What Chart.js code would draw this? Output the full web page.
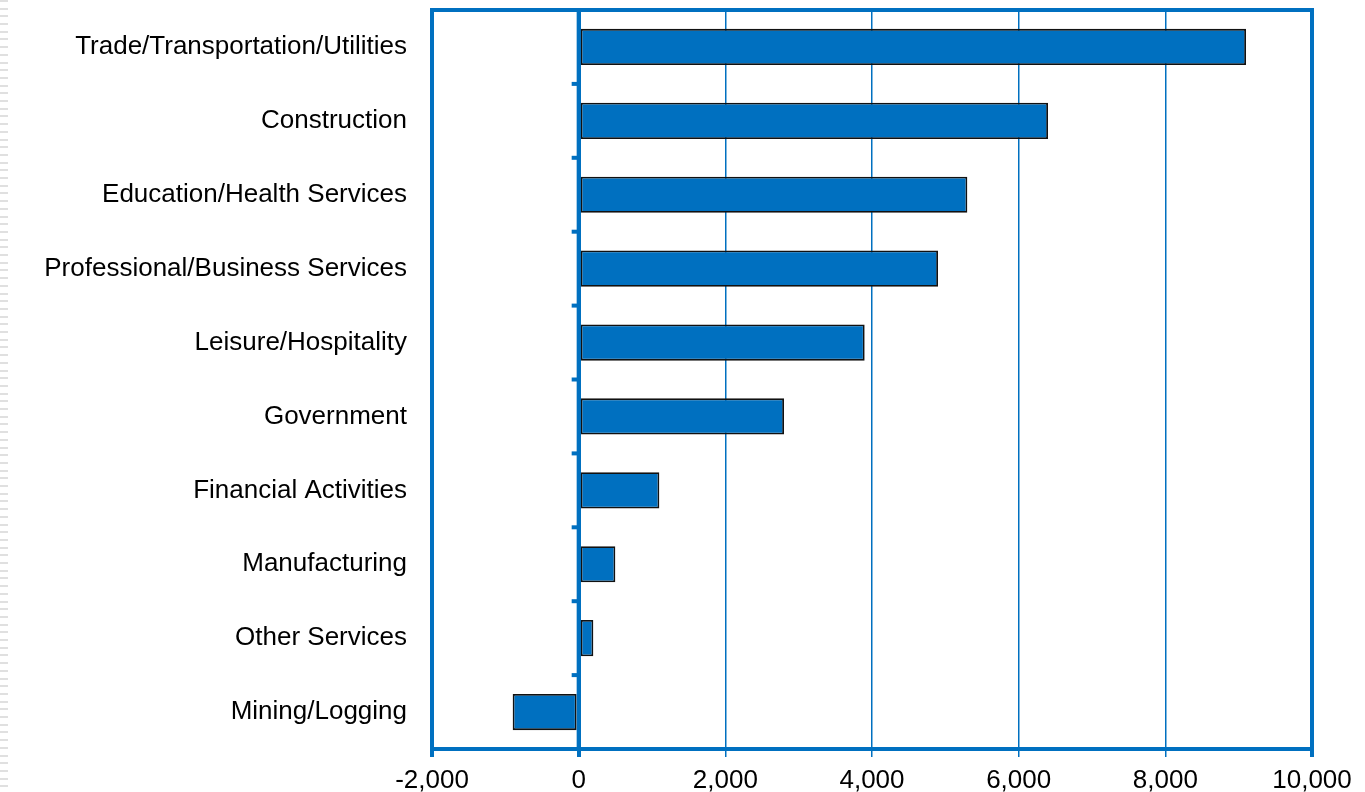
<!DOCTYPE html>
<html>
<head>
<meta charset="utf-8">
<script src="https://cdn.jsdelivr.net/npm/chart.js@4.4.0/dist/chart.umd.min.js"></script>
<style>
  html, body { margin: 0; padding: 0; background: #fff; }
  #wrap { position: relative; width: 1365px; height: 792px; }
  #stripe {
    position: absolute; left: 0; top: 0; width: 8px; height: 792px;
    background: repeating-linear-gradient(to bottom, #e0e0e0 0px, #e0e0e0 2px, #fff 2px, #fff 7.7px);
  }
</style>
</head>
<body>
<div id="wrap">
  <div id="stripe"></div>
  <canvas id="chart" width="1365" height="792"></canvas>
</div>
<script>
const categories = [
  'Trade/Transportation/Utilities',
  'Construction',
  'Education/Health Services',
  'Professional/Business Services',
  'Leisure/Hospitality',
  'Government',
  'Financial Activities',
  'Manufacturing',
  'Other Services',
  'Mining/Logging'
];
const jobChange = [9100, 6400, 5300, 4900, 3900, 2800, 1100, 500, 200, -900];
const xMin = -2000;
const xMax = 10000;
const xStep = 2000;

const blue = '#0070C0';
const fontFamily = 'Liberation Sans, Arial, sans-serif';

// frame, zero line and the little ticks on it
const framePlugin = {
  id: 'frame',
  afterDatasetsDraw(chart) {
    const { ctx, chartArea: a, scales } = chart;
    const x0 = scales.x.getPixelForValue(0);
    ctx.save();
    ctx.strokeStyle = blue;
    ctx.lineWidth = 4;
    ctx.beginPath();
    ctx.moveTo(x0, a.top);
    ctx.lineTo(x0, a.bottom);
    ctx.stroke();
    ctx.strokeRect(a.left, a.top, a.right - a.left, a.bottom - a.top);
    const n = categories.length;
    const h = (a.bottom - a.top) / n;
    for (let i = 1; i < n; i++) {
      const y = a.top + h * i;
      ctx.beginPath();
      ctx.moveTo(x0 - 7, y);
      ctx.lineTo(x0, y);
      ctx.stroke();
    }
    ctx.restore();
  }
};

new Chart(document.getElementById('chart'), {
  type: 'bar',
  data: {
    labels: categories,
    datasets: [{
      data: jobChange,
      backgroundColor: blue,
      borderColor: '#111',
      borderWidth: 1.8,
      borderSkipped: false,
      categoryPercentage: 1,
      barPercentage: 0.49
    }]
  },
  options: {
    indexAxis: 'y',
    responsive: false,
    animation: false,
    layout: { padding: { top: 10, right: 53, left: 0, bottom: 0 } },
    plugins: { legend: { display: false }, tooltip: { enabled: false } },
    scales: {
      x: {
        min: xMin,
        max: xMax,
        ticks: {
          stepSize: xStep,
          color: '#000',
          padding: 8,
          font: { family: fontFamily, size: 26 },
          callback: v => v.toLocaleString('en-US')
        },
        grid: {
          color: blue,
          lineWidth: c => (c.tick && (c.tick.value === 0 || c.tick.value === xMin || c.tick.value === xMax)) ? 4 : 1.5,
          tickLength: 8,
          tickColor: blue
        },
        border: { display: true, color: blue, width: 4 },
        afterFit: s => { s.height = 43; s.paddingLeft = 0; s.paddingRight = 0; }
      },
      y: {
        ticks: {
          color: '#000',
          padding: 17,
          font: { family: fontFamily, size: 26 }
        },
        grid: { display: false },
        border: { display: false },
        afterFit: s => { s.width = 432; s.paddingTop = 0; s.paddingBottom = 0; }
      }
    }
  },
  plugins: [framePlugin]
});
</script>
</body>
</html>
